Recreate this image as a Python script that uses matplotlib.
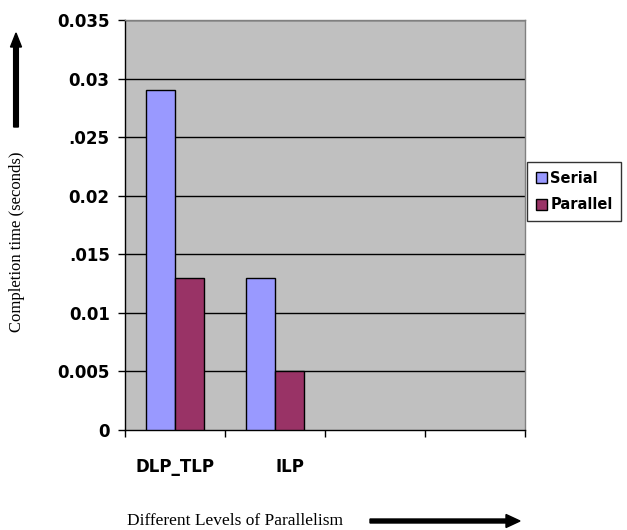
import matplotlib.pyplot as plt
import numpy as np

categories = ["DLP_TLP", "ILP", "", ""]
serial = [0.029, 0.013]
parallel = [0.013, 0.005]
y_ticks = [0, 0.005, 0.01, 0.015, 0.02, 0.025, 0.03, 0.035]
y_tick_labels = ["0", "0.005", "0.01", ".015", "0.02", ".025", "0.03", "0.035"]

fig = plt.figure(figsize=(6.27, 5.30), dpi=100)
ax = fig.add_axes([125 / 627, 100 / 530, 400 / 627, 410 / 530])
ax.set_facecolor("#c0c0c0")

bw = 0.29
x = np.arange(len(serial))
ax.bar(x + 0.5 - bw / 2 - 0.005, serial, width=bw, color="#9999ff",
       edgecolor="black", linewidth=1, label="Serial", zorder=3)
ax.bar(x + 0.5 + bw / 2 - 0.005, parallel, width=bw, color="#993366",
       edgecolor="black", linewidth=1, label="Parallel", zorder=3)

ax.set_xlim(0, len(categories))
ax.set_ylim(0, 0.035)
ax.set_yticks(y_ticks)
ax.set_yticklabels(y_tick_labels)
ax.set_xticks(np.arange(len(categories) + 1))
ax.set_xticklabels([])
for i, c in enumerate(categories):
    if c:
        ax.text(i + 0.5 + (0.15 if c == "ILP" else 0), -0.0032, c, ha="center",
                va="center", fontsize=12, fontweight="bold", family="DejaVu Sans")

for t in y_ticks[1:]:
    ax.axhline(t, color="black", linewidth=1, zorder=1)

ax.tick_params(axis="y", direction="out", length=5, width=1, labelsize=12, pad=6)
ax.tick_params(axis="x", direction="out", length=5, width=1)
for lab in ax.get_yticklabels():
    lab.set_fontweight("bold")
for s in ["left", "bottom"]:
    ax.spines[s].set_color("black")
    ax.spines[s].set_linewidth(1)
for s in ["top", "right"]:
    ax.spines[s].set_color("#808080")
    ax.spines[s].set_linewidth(1)

leg = fig.legend(loc="upper left", bbox_to_anchor=(527 / 627, 1 - 162 / 530),
                 frameon=True, fancybox=False, edgecolor="black",
                 prop={"weight": "bold", "size": 10.5}, handlelength=0.8,
                 handleheight=0.8, handletextpad=0.2, borderpad=0.6,
                 labelspacing=0.8, borderaxespad=0)
leg.get_frame().set_linewidth(1)

fig.text(17 / 627, 1 - 242 / 530, "Completion time (seconds)", rotation=90,
         ha="center", va="center", fontsize=12, family="Liberation Serif")
fig.text(127 / 627, 1 - 521 / 530, "Different Levels of Parallelism",
         ha="left", va="center", fontsize=12.5, family="Liberation Serif")

fig.patches.append(plt.matplotlib.patches.FancyArrow(
    16 / 627, 1 - 127 / 530, 0, 94 / 530, width=4 / 530, head_width=11 / 627,
    head_length=14 / 530, color="black", transform=fig.transFigure,
    length_includes_head=True))
fig.patches.append(plt.matplotlib.patches.FancyArrow(
    370 / 627, 1 - 521 / 530, 150 / 627, 0, width=4 / 530, head_width=13 / 530,
    head_length=14 / 627, color="black", transform=fig.transFigure,
    length_includes_head=True))

fig.savefig("out.png", dpi=100)
